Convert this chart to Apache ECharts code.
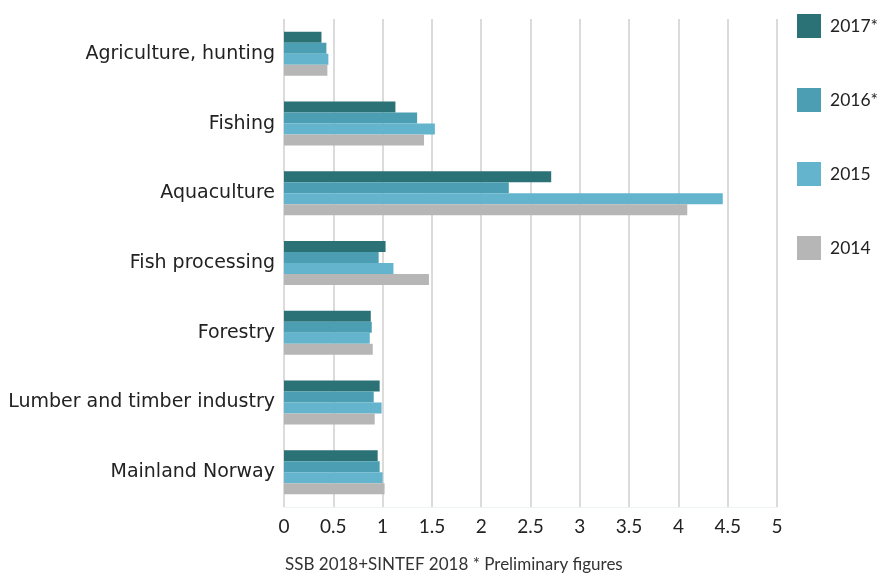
<!DOCTYPE html>
<html>
<head>
<meta charset="utf-8">
<script src="https://cdn.jsdelivr.net/npm/echarts@6/dist/echarts.min.js"></script>
<style>
html,body{margin:0;padding:0;background:#fff;}
#c{width:881px;height:574px;}
</style>
</head>
<body>
<div id="c"></div>
<script>
const categories = ["Agriculture, hunting","Fishing","Aquaculture","Fish processing","Forestry","Lumber and timber industry","Mainland Norway"];
const seriesNames = ["2017*","2016*","2015","2014"];
const v2017 = [0.38, 1.13, 2.71, 1.03, 0.88, 0.97, 0.95];
const v2016 = [0.43, 1.35, 2.28, 0.96, 0.89, 0.91, 0.97];
const v2015 = [0.45, 1.53, 4.45, 1.11, 0.87, 0.99, 1.00];
const v2014 = [0.44, 1.42, 4.09, 1.47, 0.90, 0.92, 1.02];
const xTicks = [0,0.5,1,1.5,2,2.5,3,3.5,4,4.5,5];
const sourceText = "SSB 2018+SINTEF 2018 * Preliminary figures";

const colors = ["#2a7276","#4c9fb2","#63b4cc","#b6b6b6"];
const values = [v2017, v2016, v2015, v2014];
const font = "Lato, 'Open Sans', sans-serif";
const wideFont = "'DejaVu Sans', 'Open Sans', sans-serif";

const chart = echarts.init(document.getElementById('c'));
chart.setOption({
  animation: false,
  color: colors,
  textStyle: { fontFamily: font },
  grid: { left: 284, right: 104, top: 19, bottom: 67, containLabel: false },
  legend: {
    orient: 'vertical',
    left: 792,
    top: 9,
    itemWidth: 24,
    itemHeight: 24,
    itemGap: 50,
    itemStyle: { borderWidth: 0 },
    icon: 'rect',
    data: seriesNames,
    textStyle: { fontSize: 17.5, color: '#222', fontFamily: font, padding: [0,0,0,4] }
  },
  title: {
    text: sourceText,
    left: 280,
    top: 551,
    textStyle: { fontSize: 17, fontWeight: 'normal', color: '#333', fontFamily: font }
  },
  xAxis: {
    type: 'value',
    min: xTicks[0],
    max: xTicks[xTicks.length-1],
    interval: 0.5,
    axisLine: { show: true, lineStyle: { color: '#eef3f3', width: 1 } },
    axisTick: { show: false },
    axisLabel: { fontSize: 19, color: '#222', margin: 10, fontFamily: font },
    splitLine: { show: true, lineStyle: { color: '#cfcfcf', width: 1.5 } }
  },
  yAxis: {
    type: 'category',
    inverse: true,
    data: categories,
    axisLine: { show: false },
    axisTick: { show: false },
    axisLabel: { fontSize: 19, color: '#222', margin: 9, fontFamily: wideFont }
  },
  series: seriesNames.map((n, i) => ({
    name: n,
    type: 'bar',
    data: values[i],
    barWidth: 11,
    barGap: '0%',
    barCategoryGap: '37%',
    itemStyle: { color: colors[i] }
  }))
});
</script>
</body>
</html>
